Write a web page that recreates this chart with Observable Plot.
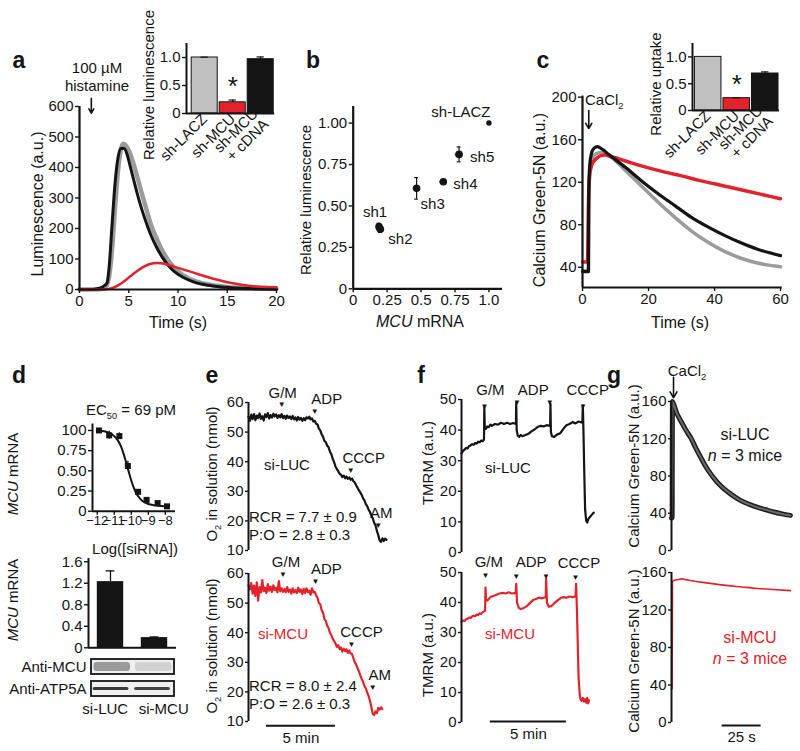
<!DOCTYPE html>
<html><head><meta charset="utf-8">
<script src="https://cdn.jsdelivr.net/npm/d3@7"></script>
<script src="https://cdn.jsdelivr.net/npm/@observablehq/plot@0.6"></script>
<style>
body{margin:0;background:#fff;}
#fig{position:relative;width:800px;height:751px;overflow:hidden;background:#fff;font-family:"Liberation Sans",Arial,Helvetica,sans-serif;color:#141414;}
#fig sub{font-size:0.62em;vertical-align:baseline;position:relative;top:0.38em;}
</style></head>
<body><div id="fig"></div>
<script>
// ================= DATA =================
// panel a: aequorin luminescence traces [time (s), a.u.]
const aLacz = [[0,0],[2,1],[2.6,6],[3.0,40],[3.3,130],[3.6,265],[3.9,385],[4.2,458],[4.4,478],[4.6,476],[4.8,468],[5.1,448],[5.5,410],[5.9,365],[6.3,318],[6.8,262],[7.3,208],[7.9,162],[8.5,122],[9.2,87],[10,59],[11,38],[12,25],[13,17],[14,12],[15,8],[16.5,5],[18,3],[20,2]];
const aCdna = [[0,0],[1.4,0],[2,4],[2.5,12],[2.8,22],[3.0,70],[3.3,210],[3.6,345],[3.9,430],[4.2,462],[4.5,463],[4.8,446],[5.1,410],[5.4,372],[5.8,322],[6.2,276],[6.7,226],[7.2,182],[7.8,140],[8.4,106],[9.0,79],[9.7,57],[10.5,40],[11.5,26],[12.5,17],[14,10],[16,5],[18,2.5],[20,1]];
const aMcu = [[0,0],[2.5,0],[3.0,2],[3.5,7],[4,15],[4.5,26],[5,39],[5.5,52],[6,64],[6.5,74],[7,82],[7.5,86],[8,87],[8.5,85],[9,81],[9.5,76],[10,71],[11,61],[12,51],[13,41],[14,32],[15,24],[16,18],[17,13],[18,10],[19,8],[20,7]];
const aHistamineT = [1.2];
const insetCats = ["sh-LACZ", "sh-MCU", "sh-MCU\n+ cDNA"];
const aInsetVals = [1.0, 0.20, 0.97];
const aInsetErr = [0.006, 0.04, 0.04];
// panel b
const bNames = ["sh1", "sh2", "sh3", "sh4", "sh5", "sh-LACZ"];
const bMrna = [0.19, 0.20, 0.467, 0.664, 0.78, 1.0];
const bLum = [0.375, 0.36, 0.606, 0.646, 0.811, 1.0];
const bMrnaErr = [0.012, 0.012, 0.008, 0.025, 0.028, 0];
const bLumErr = [0.02, 0.02, 0.065, 0.012, 0.045, 0];
// panel c: Calcium Green-5N traces [time (s), a.u.]
const cLacz = [[0,37],[1.8,37],[1.95,115],[2.3,136],[3,143],[4,146.5],[5.5,148],[8,145],[13,131],[18,116],[23,101],[28,87],[33,74],[38,63.5],[43,55],[48,48.5],[53,44],[60,40.5]];
const cCdna = [[0,36],[1.8,36],[1.9,110],[2.2,136],[2.7,147],[3.5,152],[4.5,153.5],[6,151],[8,146],[13,134],[18,121],[23,109],[28,98],[33,87],[38,78],[43,70],[48,63],[53,57],[60,51]];
const cMcu = [[0,45],[1.5,45],[1.8,100],[2.2,127],[2.8,136],[3.5,140],[4.5,143],[5.5,145],[7,145.5],[8,144.5],[10,143],[12,141],[15,138],[20,133.5],[25,129.5],[30,126],[35,122],[40,118.5],[45,115],[50,111.5],[55,108],[60,104.5]];
const cCaT = [1.9];
const cInsetVals = [1.0, 0.23, 0.69];
const cInsetErr = [0, 0.008, 0.03];
// panel d
const dLogSi = [-11.9, -11.3, -10.7, -10.2, -9.6, -9.1, -8.45, -7.9];
const dMrna = [1.0, 0.94, 0.93, 0.56, 0.24, 0.14, 0.10, 0.06];
const dMrnaErr = [0.01, 0.05, 0.04, 0.06, 0.03, 0.03, 0.01, 0.01];
const dFitX = [-11.9,-11.6,-11.3,-11.0,-10.8,-10.6,-10.45,-10.3,-10.15,-10.0,-9.85,-9.7,-9.5,-9.3,-9.0,-8.7,-8.4,-8.1,-7.9];
const dFitY = [1.0,0.99,0.97,0.93,0.88,0.80,0.71,0.60,0.49,0.38,0.29,0.22,0.16,0.12,0.09,0.075,0.067,0.062,0.06];
const dLogTicks = [-12, -11, -10, -9, -8];
const dTopTicks = [0, 0.25, 0.5, 0.75, 1];
const dTopTickLabels = ["0", "0.25", "0.50", "0.75", "100"];
const dBarCats = ["si-LUC", "si-MCU"];
const dBarVals = [1.23, 0.19];
const dBarErr = [0.2, 0.012];
const dBarTicks = [0, 0.4, 0.8, 1.2, 1.6];
const blotRows = ["Anti-MCU", "Anti-ATP5A"];
const blotLanes = ["si-LUC", "si-MCU"];
const blotShades = [["#9a9a9a", "#d2d2d2"], ["#3a3a3a", "#424242"]];
// panel e: O2 in solution [time (min), nmol]
const eLuc = [[0,55.2],[0.1,53.8],[0.2,55.9],[0.3,54.4],[0.4,56.1],[0.5,54.0],[0.6,55.6],[0.7,54.7],[0.8,56.3],[0.9,54.5],[1.0,55.4],[1.1,53.9],[1.2,56.0],[1.3,55.1],[1.4,56.4],[1.5,54.6],[1.6,55.8],[1.7,54.9],[1.8,56.2],[1.9,55.3],[2.0,56.0],[2.1,54.8],[2.2,55.7],[2.3,55.0],[2.4,56.1],[2.5,54.7],[2.6,55.5],[2.7,54.5],[2.8,55.6],[2.9,54.8],[3.0,55.3],[3.1,54.4],[3.2,55.5],[3.3,54.3],[3.4,55.0],[3.5,53.9],[3.6,55.1],[3.7,54.2],[3.8,54.8],[3.9,53.8],[4.0,54.7],[4.1,54.0],[4.2,55.0],[4.3,54.6],[4.4,55.2],[4.5,54.3],[4.6,54.6],[4.7,53.6],[4.8,53.8],[4.9,52.8],[5.0,52.6],[5.1,51.2],[5.2,50.6],[5.3,49.2],[5.4,48.5],[5.5,47.0],[5.6,46.6],[5.7,45.4],[5.8,44.9],[5.9,43.4],[6.0,42.6],[6.1,41.0],[6.2,39.9],[6.3,38.4],[6.4,37.5],[6.5,36.8],[6.6,35.9],[6.7,35.6],[6.8,34.8],[6.9,35.3],[7.0,34.4],[7.1,35.0],[7.2,34.2],[7.3,34.7],[7.4,33.9],[7.5,34.3],[7.6,33.4],[7.7,33.0],[7.8,32.0],[7.9,31.2],[8.0,30.3],[8.1,29.6],[8.2,28.8],[8.3,27.6],[8.4,26.9],[8.5,25.7],[8.6,25.0],[8.7,23.8],[8.8,23.0],[8.9,21.8],[9.0,20.9],[9.1,19.4],[9.2,18.5],[9.3,16.6],[9.4,15.2],[9.5,13.4],[9.6,12.9],[9.7,14.1],[9.8,13.2],[9.9,14.0],[10.0,13.6]];
const eMcu = [[0,56.0],[0.1,54.6],[0.2,56.8],[0.3,53.2],[0.4,55.9],[0.5,52.4],[0.6,57.0],[0.7,50.8],[0.8,55.4],[0.9,53.6],[1.0,57.8],[1.1,54.0],[1.2,55.2],[1.3,53.4],[1.4,56.4],[1.5,54.2],[1.6,55.6],[1.7,53.8],[1.8,56.0],[1.9,54.4],[2.0,55.2],[2.1,53.6],[2.2,57.4],[2.3,54.0],[2.4,55.0],[2.5,53.8],[2.6,54.8],[2.7,53.6],[2.8,55.4],[2.9,53.8],[3.0,54.6],[3.1,53.2],[3.2,55.0],[3.3,53.6],[3.4,54.4],[3.5,53.4],[3.6,55.2],[3.7,53.8],[3.8,54.6],[3.9,53.0],[4.0,54.8],[4.1,53.4],[4.2,55.0],[4.3,53.6],[4.4,54.2],[4.5,52.8],[4.6,55.0],[4.7,53.6],[4.8,53.8],[4.9,52.6],[5.0,51.8],[5.1,50.0],[5.2,49.6],[5.3,47.6],[5.4,46.8],[5.5,44.6],[5.6,44.0],[5.7,42.4],[5.8,41.6],[5.9,40.0],[6.0,39.2],[6.1,38.0],[6.2,37.2],[6.3,36.4],[6.4,35.2],[6.5,35.8],[6.6,34.4],[6.7,35.0],[6.8,33.6],[6.9,34.6],[7.0,33.8],[7.1,34.4],[7.2,33.2],[7.3,34.0],[7.4,33.0],[7.5,32.8],[7.6,31.4],[7.7,30.0],[7.8,29.2],[7.9,28.0],[8.0,27.0],[8.1,25.6],[8.2,24.4],[8.3,23.4],[8.4,22.0],[8.5,21.2],[8.6,19.8],[8.7,18.6],[8.8,17.0],[8.9,15.0],[9.0,12.6],[9.1,12.2],[9.2,13.4],[9.3,12.8],[9.4,14.6],[9.5,14.0],[9.6,14.8],[9.7,14.2]];
const eEvents = ["G/M", "ADP", "CCCP", "AM"];
const eLucEventT = [2.4, 4.8, 7.4, 9.4];
const eLucEventV = [59.2, 57.1, 37.2, 18.4];
const eMcuEventT = [2.5, 4.85, 7.46, 9.0];
const eMcuEventV = [59.7, 57.3, 36.2, 21.6];
const eScaleMin = [1.3, 5];
// panel f: TMRM [time (min), a.u.]
const fLuc = [[0,32.4],[0.1,33.2],[0.2,33.6],[0.3,34.2],[0.4,34.0],[0.5,34.8],[0.6,35.0],[0.7,35.4],[0.8,35.2],[0.9,35.8],[1.0,35.6],[1.1,36.2],[1.2,36.0],[1.3,36.6],[1.4,36.4],[1.48,37.0],[1.5,47.5],[1.53,41.0],[1.6,40.4],[1.7,41.2],[1.8,41.0],[1.9,41.8],[2.0,41.4],[2.2,42.0],[2.4,41.8],[2.6,42.4],[2.8,42.0],[3.0,42.4],[3.2,42.0],[3.4,42.3],[3.58,42.0],[3.6,49.0],[3.63,40.0],[3.7,38.2],[3.8,37.8],[3.9,38.4],[4.0,38.0],[4.2,38.4],[4.4,38.8],[4.6,39.6],[4.8,40.2],[5.0,41.0],[5.2,41.4],[5.4,41.2],[5.6,41.6],[5.83,41.4],[5.85,48.6],[5.88,39.4],[5.95,38.0],[6.1,37.8],[6.3,38.6],[6.5,39.0],[6.7,40.4],[6.9,41.6],[7.1,42.0],[7.3,42.6],[7.5,42.2],[7.7,42.8],[7.95,42.4],[7.98,48.0],[8.02,40.0],[8.08,25.0],[8.13,14.0],[8.2,10.4],[8.27,9.8],[8.35,11.0],[8.45,11.6],[8.55,12.2],[8.65,12.8],[8.7,13.0]];
const fMcu = [[0,33.6],[0.1,34.0],[0.2,33.8],[0.3,34.4],[0.4,34.6],[0.5,35.0],[0.6,34.8],[0.7,35.4],[0.8,35.6],[0.9,35.4],[1.0,36.0],[1.1,35.8],[1.2,36.4],[1.3,36.2],[1.4,36.8],[1.55,37.2],[1.58,45.0],[1.62,40.6],[1.73,40.8],[1.9,41.8],[2.1,42.2],[2.3,42.6],[2.5,43.0],[2.7,43.2],[2.9,43.0],[3.1,43.4],[3.3,43.0],[3.57,43.2],[3.6,46.2],[3.65,40.0],[3.77,38.2],[3.9,37.8],[4.1,38.2],[4.3,38.8],[4.5,39.8],[4.7,40.8],[4.9,41.2],[5.1,41.6],[5.3,41.4],[5.54,41.8],[5.57,47.9],[5.62,40.0],[5.74,38.6],[5.9,38.8],[6.07,39.6],[6.3,40.6],[6.5,41.4],[6.7,41.8],[6.9,41.6],[7.1,42.0],[7.3,41.8],[7.5,42.0],[7.54,46.2],[7.6,36.0],[7.7,15.0],[7.78,9.0],[7.83,7.8],[7.9,7.2],[7.98,8.2],[8.05,7.0],[8.12,7.8],[8.2,6.6],[8.27,8.2],[8.33,6.4],[8.38,7.4]];
const fEvents = ["G/M", "ADP", "CCCP"];
const fLucMarkT = [1.51, 3.64, 5.8, 7.98];
const fLucMarkV = [47.7, 49.2, 49.2, 47.7];
const fLucLabelT = [1.9, 4.72, 8.3];
const fLucLabelV = [53, 53, 53];
const fMcuMarkT = [1.58, 3.6, 5.56, 7.5];
const fMcuMarkV = [49, 48.6, 48.6, 48.2];
const fMcuLabelT = [1.8, 4.58, 7.72];
const fMcuLabelV = [53.4, 53.4, 53.0];
const fScaleMin = [1.9, 5];
// panel g: Calcium Green-5N in liver mitochondria [time (s), a.u.]
const gLuc = [[0,35],[0.4,35],[0.6,160],[1.2,158],[2.0,154],[2.6,151],[3.5,147],[4.7,143],[7,136],[9.5,128.5],[12.2,121.5],[15.3,111],[18.6,100.5],[21.5,91.5],[25,82.5],[29,74],[33.5,66.5],[38.5,60],[44.2,53.8],[50,49.5],[54.9,46.5],[60,44],[65.6,41.3],[71,39.3],[76.3,37.7]];
const gMcu = [[0,36],[0.4,36],[0.6,150],[1.2,151.5],[3.6,152.2],[6.8,153.2],[9,152.4],[12.2,151.5],[20,149.5],[33.5,146.5],[45,144.6],[55,143],[65,141.8],[76.3,140.7]];
const gCaT = [1.3];
const gScaleSec = [32.5, 25];

// ================= DRAWING =================
const RED = "#e3232b", GRAY = "#9b9b9b", BLACK = "#141414", BARGRAY = "#c0c0c0";
const FONT = '"Liberation Sans", Arial, Helvetica, sans-serif';
const fig = document.getElementById("fig");
const X = d => d[0], Y = d => d[1];
const AX = {tickSize: 4, tickPadding: 2, label: null, strokeWidth: 1.4, fontSize: 15};
const fmtMap = (ticks, labels) => { const m = new Map(ticks.map((t, i) => [t, labels[i]])); return d => m.get(d); };

function panel(f, opts) {
  const svg = Plot.plot({
    width: 800, height: 751,
    marginLeft: f.l, marginRight: 800 - f.r, marginTop: f.t, marginBottom: 751 - f.b,
    style: {background: "transparent", overflow: "visible", position: "absolute", left: "0px", top: "0px", fontFamily: FONT, fontSize: "15px", color: BLACK},
    ...opts
  });
  fig.appendChild(svg);
}

// --- a main
panel({l: 79, t: 106, r: 276, b: 289}, {
  x: {domain: [0, 20]}, y: {domain: [0, 600]},
  marks: [
    Plot.line(aLacz, {x: X, y: Y, stroke: GRAY, strokeWidth: 4.5, curve: "monotone-x"}),
    Plot.line(aCdna, {x: X, y: Y, stroke: BLACK, strokeWidth: 3, curve: "monotone-x"}),
    Plot.line(aMcu, {x: X, y: Y, stroke: RED, strokeWidth: 2.5, curve: "monotone-x"}),
    Plot.ruleX([0], {strokeWidth: 2.2}), Plot.ruleY([0], {strokeWidth: 2.2}),
    Plot.axisX({...AX, ticks: [0, 5, 10, 15, 20]}),
    Plot.axisY({...AX, ticks: [0, 100, 200, 300, 400, 500, 600]}),
    Plot.arrow(aHistamineT, {x1: d => d, x2: d => d, y1: 627, y2: 578, strokeWidth: 1.6, headLength: 7})
  ]
});

// --- insets a & c
const INSET_FILL = [BARGRAY, RED, BLACK];
function inset(f, x0, vals, errs) {
  const data = insetCats.map((c, i) => ({i, c, v: vals[i], e: errs[i]}));
  const withErr = data.filter(d => d.e > 0);
  const ticks = insetCats.map((c, i) => i + 0.5);
  panel(f, {
    x: {domain: [x0, 3]}, y: {domain: [0, 1.25]},
    marks: [
      Plot.rect(data, {x1: d => d.i + 0.035, x2: d => d.i + 0.965, y1: 0, y2: "v", fill: d => INSET_FILL[d.i], stroke: BLACK, strokeWidth: 1}),
      Plot.ruleX(withErr, {x: d => d.i + 0.5, y1: "v", y2: d => d.v + d.e, strokeWidth: 1.2}),
      Plot.ruleY(withErr, {y: d => d.v + d.e, x1: d => d.i + 0.37, x2: d => d.i + 0.63, strokeWidth: 1.2}),
      Plot.text(data.filter(d => d.i === 1), {x: d => d.i + 0.5, y: d => d.v + d.e, text: () => "*", dy: -5, fontSize: 26, lineAnchor: "bottom"}),
      Plot.ruleX([x0], {strokeWidth: 2}), Plot.ruleY([0], {strokeWidth: 2}),
      Plot.axisY({...AX, ticks: [0, 0.5, 1], tickFormat: fmtMap([0, 0.5, 1], ["0", "0.5", "1.0"])}),
      Plot.axisX({ticks, tickFormat: fmtMap(ticks, insetCats), tickRotate: -45, tickSize: 0, tickPadding: 3, label: null, fontSize: 15})
    ]
  });
}
inset({l: 186, t: 43, r: 274.2, b: 113}, -0.15, aInsetVals, aInsetErr);
inset({l: 692, t: 43, r: 779, b: 110}, -0.05, cInsetVals, cInsetErr);

// --- b
const bData = bNames.map((n, i) => ({n, x: bMrna[i], y: bLum[i], ex: bMrnaErr[i], ey: bLumErr[i]}));
const bLabelStyle = {
  "sh1": {dx: -4, dy: -14, a: "middle"}, "sh2": {dx: 8, dy: 10, a: "start"},
  "sh3": {dx: 4, dy: 16, a: "start"}, "sh4": {dx: 10, dy: 2, a: "start"},
  "sh5": {dx: 11, dy: 3, a: "start"}, "sh-LACZ": {dx: -28, dy: -11, a: "middle"}
};
const bYErr = bData.filter(d => d.ey > 0), bXErr = bData.filter(d => d.ex > 0);
panel({l: 352.7, t: 106, r: 502, b: 288.3}, {
  x: {domain: [0, 1.1]}, y: {domain: [0, 1.1]},
  marks: [
    Plot.ruleX(bYErr, {x: "x", y1: d => d.y - d.ey, y2: d => d.y + d.ey, strokeWidth: 1.2}),
    Plot.ruleY(bYErr, {y: d => d.y + d.ey, x1: d => d.x - 0.014, x2: d => d.x + 0.014, strokeWidth: 1.2}),
    Plot.ruleY(bYErr, {y: d => d.y - d.ey, x1: d => d.x - 0.014, x2: d => d.x + 0.014, strokeWidth: 1.2}),
    Plot.ruleY(bXErr, {y: "y", x1: d => d.x - d.ex, x2: d => d.x + d.ex, strokeWidth: 1.6}),
    Plot.dot(bData.filter(d => d.n !== "sh-LACZ"), {x: "x", y: "y", r: 3.8, fill: BLACK}),
    Plot.dot(bData.filter(d => d.n === "sh-LACZ"), {x: "x", y: "y", r: 2.7, fill: BLACK}),
    ...bData.map(d => Plot.text([d], {x: "x", y: "y", text: "n", dx: bLabelStyle[d.n].dx, dy: bLabelStyle[d.n].dy, textAnchor: bLabelStyle[d.n].a, fontSize: 15})),
    Plot.ruleX([0], {strokeWidth: 2.2}), Plot.ruleY([0], {strokeWidth: 2.2}),
    Plot.axisX({...AX, ticks: [0, 0.25, 0.5, 0.75, 1], tickFormat: fmtMap([0, 0.25, 0.5, 0.75, 1], ["0", "0.25", "0.5", "0.75", "1.0"])}),
    Plot.axisY({...AX, ticks: [0, 0.25, 0.5, 0.75, 1], tickFormat: fmtMap([0, 0.25, 0.5, 0.75, 1], ["0", "0.25", "0.50", "0.75", "1.00"])})
  ]
});

// --- c main
panel({l: 582, t: 95.6, r: 781.7, b: 287}, {
  x: {domain: [0, 60.5]}, y: {domain: [21, 201]},
  marks: [
    Plot.line(cLacz, {x: X, y: Y, stroke: GRAY, strokeWidth: 3.5, curve: "monotone-x"}),
    Plot.line(cMcu, {x: X, y: Y, stroke: RED, strokeWidth: 3.5, curve: "monotone-x"}),
    Plot.line(cCdna, {x: X, y: Y, stroke: BLACK, strokeWidth: 3.2, curve: "monotone-x"}),
    Plot.ruleX([0], {strokeWidth: 2.2}), Plot.ruleY([21], {strokeWidth: 2.2}),
    Plot.axisX({...AX, ticks: [0, 20, 40, 60]}),
    Plot.axisY({...AX, ticks: [40, 80, 120, 160, 200]}),
    Plot.arrow(cCaT, {x1: d => d, x2: d => d, y1: 187.5, y2: 170.5, strokeWidth: 1.6, headLength: 7})
  ]
});

// --- d top (dose response)
const dPts = dLogSi.map((x, i) => ({x, y: dMrna[i], e: dMrnaErr[i]}));
const dFit = dFitX.map((x, i) => [x, dFitY[i]]);
panel({l: 92, t: 423.5, r: 175, b: 510.7}, {
  x: {domain: [-12.28, -7.4]}, y: {domain: [0, 1.08]},
  marks: [
    Plot.ruleX(dPts, {x: "x", y1: d => d.y - d.e, y2: d => d.y + d.e, strokeWidth: 1.3}),
    Plot.line(dFit, {x: X, y: Y, strokeWidth: 2, curve: "monotone-x"}),
    Plot.dot(dPts, {x: "x", y: "y", symbol: "square", r: 3.4, fill: BLACK}),
    Plot.ruleX([-12.28], {strokeWidth: 2}), Plot.ruleY([0], {strokeWidth: 2}),
    Plot.axisX({...AX, ticks: dLogTicks, tickPadding: 1, fontSize: 13, tickFormat: d => (d < 0 ? "\u2212" : "") + Math.abs(d)}),
    Plot.axisY({...AX, ticks: dTopTicks, tickFormat: fmtMap(dTopTicks, dTopTickLabels)})
  ]
});

// --- d bottom (bars)
const dBars = dBarCats.map((c, i) => ({i, c, v: dBarVals[i], e: dBarErr[i]}));
panel({l: 88, t: 558, r: 176, b: 647.3}, {
  x: {domain: [0, 2], axis: null}, y: {domain: [0, 1.66]},
  marks: [
    Plot.rect(dBars, {x1: d => d.i + 0.2, x2: d => d.i + 0.8, y1: 0, y2: "v", fill: BLACK}),
    Plot.ruleX(dBars, {x: d => d.i + 0.5, y1: "v", y2: d => d.v + d.e, strokeWidth: 1.3}),
    Plot.ruleY(dBars, {y: d => d.v + d.e, x1: d => d.i + 0.4, x2: d => d.i + 0.6, strokeWidth: 1.3}),
    Plot.ruleX([0], {strokeWidth: 2}), Plot.ruleY([0], {strokeWidth: 2}),
    Plot.axisY({...AX, ticks: dBarTicks, tickFormat: fmtMap(dBarTicks, ["0", "0.4", "0.8", "1.2", "1.6"])})
  ]
});

// --- d blot
const blotData = [];
blotRows.forEach((r, ri) => blotLanes.forEach((l, li) => blotData.push({row: r, lane: li, shade: blotShades[ri][li]})));
const laneLabelDx = [-7, 10];
panel({l: 91, t: 659, r: 174, b: 697}, {
  x: {domain: [0, 2], axis: null}, y: {domain: blotRows, paddingInner: 0.3, paddingOuter: 0},
  marks: [
    Plot.barX(blotRows, {x1: 0, x2: 2, y: d => d, fill: "#efefef"}),
    Plot.barX(blotData.filter(d => d.row === "Anti-MCU"), {x1: d => d.lane + 0.06, x2: d => d.lane + 0.94, y: "row", fill: "shade", insetTop: 3, insetBottom: 3, rx: 3}),
    Plot.barX(blotData.filter(d => d.row === "Anti-ATP5A"), {x1: d => d.lane + 0.04, x2: d => d.lane + 0.9, y: "row", fill: "shade", insetTop: 6, insetBottom: 6, rx: 1.5}),
    Plot.barX(blotRows, {x1: 0, x2: 2, y: d => d, fill: "none", stroke: BLACK, strokeWidth: 1.8}),
    Plot.axisY({tickSize: 0, tickPadding: 5, label: null, fontSize: 15}),
    ...blotLanes.map((l, i) => Plot.text([l], {x: i + 0.5, frameAnchor: "bottom", text: d => d, dy: 16, dx: laneLabelDx[i], fontSize: 15}))
  ]
});

// --- e
function tri(ts, vs) { return Plot.text(ts.map((t, i) => ({t, v: vs[i]})), {x: "t", y: "v", text: () => "\u25BC", fontSize: 8}); }
function ePlot(f, trace, color, evT, evV, dxs, bar) {
  const marks = [
    Plot.line(trace, {x: X, y: Y, stroke: color, strokeWidth: 2.2}),
    Plot.ruleX([0], {strokeWidth: 2}),
    Plot.axisY({...AX, ticks: [10, 20, 30, 40, 50, 60], tickSize: 3}),
    tri(evT, evV),
    ...eEvents.map((n, i) => Plot.text([{t: evT[i], v: evV[i], n}], {x: "t", y: "v", text: "n", dx: dxs[i], dy: -12, fontSize: 15}))
  ];
  if (bar) {
    marks.push(Plot.ruleY([bar], {x1: d => d[0], x2: d => d[0] + d[1], y: 8.6, strokeWidth: 2}));
    marks.push(Plot.text([bar], {x: d => d[0] + d[1] / 2, y: 4.3, text: d => d[1] + " min", fontSize: 15}));
  }
  panel(f, {x: {domain: [0, 10.2], axis: null}, y: {domain: [10, 60]}, marks});
}
ePlot({l: 248, t: 402, r: 388.8, b: 550}, eLuc, BLACK, eLucEventT, eLucEventV, [1, 12, 13, 3], null);
ePlot({l: 248, t: 573, r: 388.8, b: 721}, eMcu, RED, eMcuEventT, eMcuEventV, [3, 11, 10, 7], eScaleMin);

// --- f
function fPlot(f, trace, color, mT, mV, lT, lV, bar) {
  const marks = [
    Plot.line(trace, {x: X, y: Y, stroke: color, strokeWidth: 2.2}),
    Plot.ruleX([0], {strokeWidth: 2}),
    Plot.axisY({...AX, ticks: [0, 10, 20, 30, 40, 50], tickSize: 3}),
    tri(mT, mV),
    Plot.text(fEvents.map((n, i) => ({n, t: lT[i], v: lV[i]})), {x: "t", y: "v", text: "n", fontSize: 15})
  ];
  if (bar) {
    marks.push(Plot.ruleY([bar], {x1: d => d[0], x2: d => d[0] + d[1], y: 0.3, strokeWidth: 2}));
    marks.push(Plot.text([bar], {x: d => d[0] + d[1] / 2, y: -3.9, text: d => d[1] + " min", fontSize: 15}));
  }
  panel(f, {x: {domain: [0, 8.8], axis: null}, y: {domain: [0, 50]}, marks});
}
fPlot({l: 461, t: 399, r: 594.8, b: 552}, fLuc, BLACK, fLucMarkT, fLucMarkV, fLucLabelT, fLucLabelV, null);
fPlot({l: 461, t: 572, r: 594.8, b: 722}, fMcu, RED, fMcuMarkT, fMcuMarkV, fMcuLabelT, fMcuLabelV, fScaleMin);

// --- g
panel({l: 671, t: 401, r: 791, b: 550}, {
  x: {domain: [0, 77], axis: null}, y: {domain: [0, 160]},
  marks: [
    Plot.line(gLuc, {x: X, y: Y, stroke: "#1e1e1e", strokeWidth: 5, curve: "monotone-x"}),
    Plot.line(gLuc, {x: X, y: Y, stroke: "#6a6a6a", strokeWidth: 2, curve: "monotone-x"}),
    Plot.ruleX([0], {strokeWidth: 2}),
    Plot.axisY({...AX, ticks: [0, 40, 80, 120, 160], tickSize: 3}),
    Plot.arrow(gCaT, {x1: d => d, x2: d => d, y1: 186, y2: 164, strokeWidth: 1.6, headLength: 7})
  ]
});
panel({l: 671, t: 572, r: 791, b: 722}, {
  x: {domain: [0, 77], axis: null}, y: {domain: [0, 160]},
  marks: [
    Plot.line(gMcu, {x: X, y: Y, stroke: RED, strokeWidth: 1.6, curve: "monotone-x"}),
    Plot.ruleX([0], {strokeWidth: 2}),
    Plot.axisY({...AX, ticks: [0, 40, 80, 120, 160], tickSize: 3}),
    Plot.ruleY([gScaleSec], {x1: d => d[0], x2: d => d[0] + d[1], y: -3.2, strokeWidth: 2}),
    Plot.text([gScaleSec], {x: d => d[0] + d[1] / 2, y: -15.7, text: d => d[1] + " s", fontSize: 15})
  ]
});

// ================= TEXT ANNOTATIONS =================
function note(h, x, y, o = {}) {
  const d = document.createElement("div");
  d.innerHTML = h;
  const tx = o.start ? "0" : "-50%";
  d.style.cssText = `position:absolute;left:${x}px;top:${y}px;white-space:nowrap;line-height:1;` +
    `font-size:${o.size || 15}px;color:${o.color || BLACK};${o.bold ? "font-weight:bold;" : ""}` +
    `transform:translate(${tx},-50%)${o.rot ? " rotate(-90deg)" : ""};`;
  fig.appendChild(d);
}
const L = {bold: true, size: 23};
note("a", 19, 60, L); note("b", 313, 60, L); note("c", 543, 60, L);
note("d", 19, 375, L); note("e", 212, 375, L); note("f", 421, 375, L); note("g", 614, 375, L);
note("100 \u00B5M", 97, 67); note("histamine", 97, 85);
note("Luminescence (a.u.)", 38, 204, {rot: true, size: 16});
note("Time (s)", 178, 323, {size: 16});
note("Relative luminescence", 148, 85, {rot: true});
note("Relative luminescence", 305, 200, {rot: true});
note("<i>MCU</i> mRNA", 420, 322, {size: 16});
note("Calcium Green-5N (a.u.)", 540, 200, {rot: true, size: 16});
note("Relative uptake", 655, 84, {rot: true});
note("Time (s)", 680, 323, {size: 16});
note("CaCl<sub>2</sub>", 585, 100, {start: true});
note("EC<sub>50</sub> = 69 pM", 131, 410);
note("<i>MCU</i> mRNA", 12, 474, {rot: true});
note("Log([siRNA])", 135, 548);
note("<i>MCU</i> mRNA", 12, 600, {rot: true});
note("O<sub>2</sub> in solution (nmol)", 212, 474, {rot: true});
note("O<sub>2</sub> in solution (nmol)", 212, 646, {rot: true});
note("si-LUC", 287, 464);
note("RCR = 7.7 \u00B1 0.9", 249, 516, {start: true});
note("P:O = 2.8 \u00B1 0.3", 249, 534, {start: true});
note("si-MCU", 283, 633, {color: RED});
note("RCR = 8.0 \u00B1 2.4", 249, 685, {start: true});
note("P:O = 2.6 \u00B1 0.3", 249, 703, {start: true});
note("TMRM (a.u.)", 427, 463, {rot: true});
note("TMRM (a.u.)", 427, 655, {rot: true});
note("si-LUC", 508, 467);
note("si-MCU", 510, 633, {color: RED});
note("Calcium Green-5N (a.u.)", 633, 466, {rot: true});
note("Calcium Green-5N (a.u.)", 633, 651, {rot: true});
note("CaCl<sub>2</sub>", 687, 371);
note("si-LUC", 745, 435, {size: 16});
note("<i>n</i> = 3 mice", 745, 456, {size: 16});
note("si-MCU", 750, 638, {color: RED, size: 16});
note("<i>n</i> = 3 mice", 750, 659, {color: RED, size: 16});
</script>
</body></html>
